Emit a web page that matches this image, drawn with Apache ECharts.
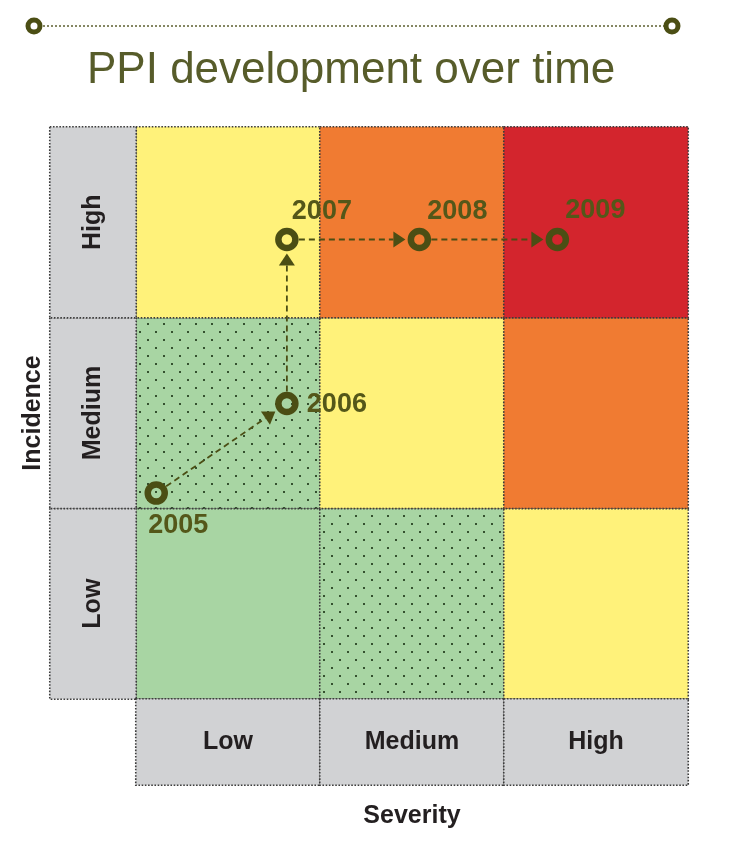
<!DOCTYPE html>
<html>
<head>
<meta charset="utf-8">
<script src="https://cdn.jsdelivr.net/npm/echarts@6/dist/echarts.min.js"></script>
<style>
  html, body { margin: 0; padding: 0; background: #ffffff; }
  #chart { width: 736px; height: 843px; }
</style>
</head>
<body>
<div id="chart"></div>
<script>
// ---------- data ----------
var severityCategories = ['Low', 'Medium', 'High'];
var incidenceCategories = ['Low', 'Medium', 'High'];
// risk level per cell, rows = incidence (Low, Medium, High), cols = severity (Low, Medium, High)
// 0 = green, 1 = dotted green, 2 = yellow, 3 = orange, 4 = red
var riskLevelLow    = [0, 1, 2];
var riskLevelMedium = [1, 2, 3];
var riskLevelHigh   = [2, 3, 4];
// PPI position per year, on a 0..3 severity / incidence scale
var years          = ['2005', '2006', '2007', '2008', '2009'];
var severityValue  = [0.11, 0.82, 0.82, 1.54, 2.29];
var incidenceValue = [1.08, 1.55, 2.41, 2.41, 2.41];

// ---------- styles ----------
var OLIVE = '#4b4e14';
var LABEL_OLIVE = '#545719';
var GREY = '#d1d2d4';
var BORDER = '#3c3c3c';

function makeDotPattern() {
  var c = document.createElement('canvas');
  c.width = 16; c.height = 16;
  var g = c.getContext('2d');
  g.fillStyle = '#a8d5a3';
  g.fillRect(0, 0, 16, 16);
  g.fillStyle = '#35512f';
  g.fillRect(3, 3, 2, 2);
  g.fillRect(11, 11, 2, 2);
  return { image: c, repeat: 'repeat' };
}
var levelColors = ['#a8d5a3', makeDotPattern(), '#fff27a', '#f07b32', '#d3252d'];

// label offsets for each year label (style, not data)
var yearLabelOffsets = [[22, 32], [50, 1], [35, -28], [38, -28], [38, -29]];

// ---------- build series data ----------
var riskRows = [riskLevelLow, riskLevelMedium, riskLevelHigh];
var heatData = [];
riskRows.forEach(function (row, yi) {
  row.forEach(function (lvl, xi) {
    heatData.push({ value: [xi, yi, lvl], itemStyle: { color: levelColors[lvl] } });
  });
});

var leftLabelData = incidenceCategories.map(function (c, i) { return [0, i, 0]; });
var bottomLabelData = severityCategories.map(function (c, i) { return [i, 0, 0]; });

var pointData = years.map(function (y, i) {
  return {
    value: [severityValue[i], incidenceValue[i], y],
    label: { offset: yearLabelOffsets[i] }
  };
});

var arrowData = [];
for (var i = 0; i < years.length - 1; i++) {
  arrowData.push([severityValue[i], incidenceValue[i], severityValue[i + 1], incidenceValue[i + 1]]);
}

var cellBorder = { borderColor: BORDER, borderWidth: 1.6, borderType: [1.6, 1.6] };
var labelFont = { fontFamily: 'Liberation Sans, Arial, sans-serif', fontWeight: 'bold', fontSize: 25, color: '#231f20' };

function renderArrow(params, api) {
  var p0 = api.coord([api.value(0), api.value(1)]);
  var p1 = api.coord([api.value(2), api.value(3)]);
  var dx = p1[0] - p0[0], dy = p1[1] - p0[1];
  var len = Math.sqrt(dx * dx + dy * dy);
  var ux = dx / len, uy = dy / len;
  var nx = -uy, ny = ux;
  var startGap = 12, endGap = 14, headLen = 12, headHalf = 8;
  var sx = p0[0] + ux * startGap, sy = p0[1] + uy * startGap;
  var tx = p1[0] - ux * endGap, ty = p1[1] - uy * endGap;
  var bx = tx - ux * headLen, by = ty - uy * headLen;
  return {
    type: 'group',
    children: [
      {
        type: 'line',
        shape: { x1: sx, y1: sy, x2: bx, y2: by },
        style: { stroke: OLIVE, lineWidth: 1.8, lineDash: [6, 4] }
      },
      {
        type: 'polygon',
        shape: { points: [[tx, ty], [bx + nx * headHalf, by + ny * headHalf], [bx - nx * headHalf, by - ny * headHalf]] },
        style: { fill: OLIVE }
      }
    ]
  };
}

var chart = echarts.init(document.getElementById('chart'));
chart.setOption({
  backgroundColor: '#ffffff',
  animation: false,
  title: {
    text: 'PPI development over time',
    left: 87,
    top: 49,
    padding: 0,
    textStyle: { fontFamily: 'Liberation Sans, Arial, sans-serif', fontWeight: 'normal', fontSize: 44, color: '#575c2a' }
  },
  graphic: [
    { type: 'line', shape: { x1: 43, y1: 26, x2: 664, y2: 26 }, style: { stroke: '#5d6030', lineWidth: 1.5, lineDash: [2, 2] } },
    { type: 'circle', shape: { cx: 34, cy: 26, r: 6 }, style: { fill: '#ffffff', stroke: OLIVE, lineWidth: 5 } },
    { type: 'circle', shape: { cx: 672, cy: 26, r: 6 }, style: { fill: '#ffffff', stroke: OLIVE, lineWidth: 5 } }
  ],
  grid: [
    { left: 136, top: 127, width: 552, height: 572 },
    { left: 50, top: 127, width: 86, height: 572 },
    { left: 136, top: 699, width: 552, height: 86 }
  ],
  xAxis: [
    { gridIndex: 0, type: 'category', data: severityCategories, show: false },
    { gridIndex: 0, type: 'value', min: 0, max: 3, show: false },
    { gridIndex: 1, type: 'category', data: [''], show: false },
    {
      gridIndex: 2, type: 'category', data: severityCategories,
      name: 'Severity', nameLocation: 'middle', nameGap: 19,
      nameTextStyle: labelFont,
      axisLine: { show: false }, axisTick: { show: false }, axisLabel: { show: false }, splitLine: { show: false }
    }
  ],
  yAxis: [
    { gridIndex: 0, type: 'category', data: incidenceCategories, show: false },
    { gridIndex: 0, type: 'value', min: 0, max: 3, show: false },
    {
      gridIndex: 1, type: 'category', data: incidenceCategories,
      name: 'Incidence', nameLocation: 'middle', nameGap: 4, nameRotate: 90,
      nameTextStyle: labelFont,
      axisLine: { show: false }, axisTick: { show: false }, axisLabel: { show: false }, splitLine: { show: false }
    },
    { gridIndex: 2, type: 'category', data: [''], show: false }
  ],
  series: [
    {
      type: 'heatmap', xAxisIndex: 0, yAxisIndex: 0,
      data: heatData,
      itemStyle: cellBorder,
      emphasis: { disabled: true },
      silent: true
    },
    {
      type: 'heatmap', xAxisIndex: 2, yAxisIndex: 2,
      data: leftLabelData,
      itemStyle: Object.assign({ color: GREY }, cellBorder),
      label: Object.assign({
        show: true, rotate: 90,
        formatter: function (p) { return incidenceCategories[p.value[1]]; }
      }, labelFont),
      emphasis: { disabled: true },
      silent: true
    },
    {
      type: 'heatmap', xAxisIndex: 3, yAxisIndex: 3,
      data: bottomLabelData,
      itemStyle: Object.assign({ color: GREY }, cellBorder),
      label: Object.assign({
        show: true,
        formatter: function (p) { return severityCategories[p.value[0]]; }
      }, labelFont),
      emphasis: { disabled: true },
      silent: true
    },
    {
      type: 'custom', xAxisIndex: 1, yAxisIndex: 1,
      data: arrowData,
      encode: { x: [0, 2], y: [1, 3] },
      renderItem: renderArrow,
      silent: true,
      z: 3
    },
    {
      type: 'scatter', xAxisIndex: 1, yAxisIndex: 1,
      data: pointData,
      symbol: 'circle', symbolSize: 17,
      itemStyle: { color: 'none', borderColor: OLIVE, borderWidth: 6.5, opacity: 1 },
      label: {
        show: true, position: 'inside',
        formatter: function (p) { return p.value[2]; },
        fontFamily: 'Liberation Sans, Arial, sans-serif', fontWeight: 'bold', fontSize: 27, color: LABEL_OLIVE
      },
      emphasis: { disabled: true },
      silent: true,
      z: 4
    }
  ]
});
</script>
</body>
</html>
